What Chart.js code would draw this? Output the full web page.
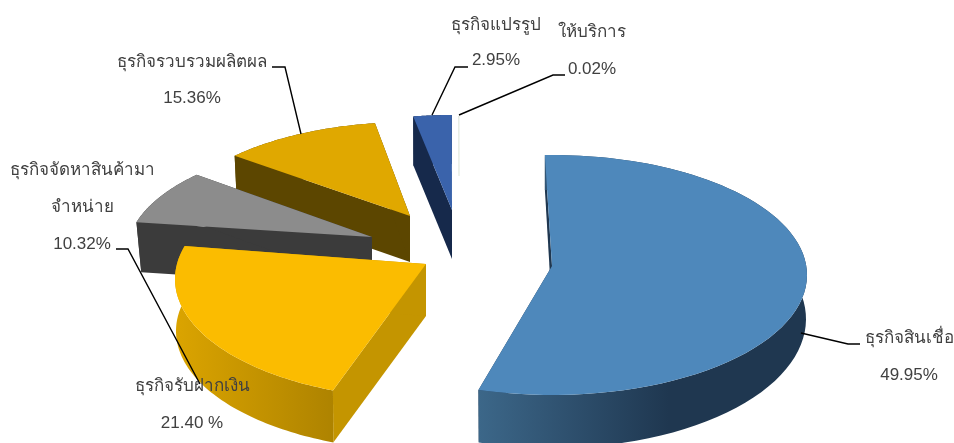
<!DOCTYPE html>
<html lang="th">
<head>
<meta charset="utf-8">
<style>html,body{margin:0;padding:0;background:#fff}canvas{display:block}</style>
<script src="https://cdn.jsdelivr.net/npm/chart.js@4"></script>
</head>
<body>
<canvas id="c" width="954" height="443"></canvas>
<script>
// DATA
const categories = ['ธุรกิจสินเชื่อ','ธุรกิจรับฝากเงิน','ธุรกิจจัดหาสินค้ามา จำหน่าย','ธุรกิจรวบรวมผลิตผล','ธุรกิจแปรรูป','ให้บริการ'];
const shares = [49.95, 21.40, 10.32, 15.36, 2.95, 0.02];
const shareTexts = ['49.95%','21.40 %','10.32%','15.36%','2.95%','0.02%'];

// STYLE / LAYOUT (relative to the pie centre and radius Chart.js computes)
const topColors = ['#4e88bb','#fbbc00','#8c8c8c','#e0a800','#3a63ab','#e6ece2'];
const edgeColors = ['#1f3750','#c49500','#3b3b3b','#5c4600','#16294b','#e6ece2'];
const rimStops = [['#3c6789','#1f3750'],['#dba400','#ae8300'],['#3b3b3b','#3b3b3b'],['#5c4600','#5c4600'],['#16294b','#16294b'],['#e6ece2','#e6ece2']];
// dx,dy explode; sx,sy top ellipse; lift apex; depth; bx,by bottom ellipse; t0,t1 view turn in degrees
const views = [
 {dx:75, dy:53.5,sx:1.275,sy:.60,lift:9, depth:44,bx:1.27,by:.645,t0:-1.6,t1:-2},
 {dx:-51,dy:57.5,sx:1.255,sy:.60,lift:15,depth:52,bx:1.25, by:.60,t0:3,t1:0},
 {dx:-105,dy:31.5,sx:1.225,sy:.56,lift:16,depth:50,bx:1.20,by:.56,t0:0,t1:-1.7},
 {dx:-67,dy:12.5,sx:1.225,sy:.56,lift:18,depth:46,bx:1.21,by:.56,t0:-1.7,t1:-1},
 {dx:-25,dy:5.5,sx:1.225,sy:.56,lift:17,depth:49,bx:1.22,by:.56,t0:-1.9,t1:0},
 {dx:-18,dy:-45.5,sx:1.225,sy:.30,lift:0,depth:0,bx:1.22,by:.30,t0:0,t1:0}
];
const paintOrder = [4,5,3,2,1,0];
const labelSpots = [
 {x:909,y:338,step:37.5},{x:192,y:386,step:37.5},{x:82,y:170,step:37.3},
 {x:192,y:62,step:36.5},{x:496,y:25,step:35.5},{x:592,y:32,step:37.5}
];
const leaders = [
 [[801,333],[848,344],[860,344]],
 [[116,249],[128,249],[200,384]],
 [[301,134],[285,67],[272,67]],
 [[432,115],[455,67],[468,67]],
 [[459,115],[553,75],[565,75]]
];

const warp = d => d + 9.5*(1-Math.cos(d*Math.PI/180)) - 17.9*Math.sin(d*Math.PI/180);

const pie3d = {
  id:'pie3d',
  beforeDatasetDraw(){ return false; },
  afterDatasetsDraw(chart){
    const ctx = chart.ctx, arcs = chart.getDatasetMeta(0).data;
    const toDeg = a => (a + Math.PI/2)*180/Math.PI;
    paintOrder.forEach(i => {
      const arc = arcs[i], v = views[i];
      const {x,y,startAngle,endAngle,outerRadius:R} = arc.getProps(['x','y','startAngle','endAngle','outerRadius'],true);
      const cx = x+v.dx, cy = y+v.dy;
      const a0 = toDeg(startAngle), a1 = toDeg(endAngle);
      const view = d => (warp(d) + v.t0 + (v.t1-v.t0)*(d-a0)/((a1-a0)||1))*Math.PI/180;
      const topPt = d => {const t=view(d);return [cx+R*v.sx*Math.sin(t), cy-R*v.sy*Math.cos(t)];};
      const botPt = d => {const t=view(d);return [cx+R*v.bx*Math.sin(t), cy+v.depth-R*v.by*Math.cos(t)];};
      const N = 80, samples=[];
      for(let k=0;k<=N;k++) samples.push(a0+(a1-a0)*k/N);
      const apex=[cx,cy-v.lift], apexB=[cx,cy-v.lift+v.depth];
      const poly=(pts,fill)=>{ctx.beginPath();pts.forEach((p,j)=>j?ctx.lineTo(p[0],p[1]):ctx.moveTo(p[0],p[1]));ctx.closePath();ctx.fillStyle=fill;ctx.fill();};
      if(v.depth>0){
        poly([apex,topPt(a0),botPt(a0),apexB],edgeColors[i]);
        poly([apex,topPt(a1),botPt(a1),apexB],edgeColors[i]);
        const tops=samples.map(topPt), bots=samples.map(botPt);
        const xs=tops.concat(bots).map(p=>p[0]);
        let minX=Math.min(...xs), maxX=Math.max(...xs);
        const g=ctx.createLinearGradient(minX,0,i===0?minX+190:maxX,0);
        g.addColorStop(0,rimStops[i][0]);g.addColorStop(1,rimStops[i][1]);
        poly(tops.concat(bots.reverse()),g);
      }
      const face=[apex].concat(samples.map(topPt));
      poly(face,topColors[i]);
      if(i===5){
        ctx.beginPath();ctx.moveTo(apex[0],apex[1]);const p=topPt(a0);ctx.lineTo(p[0],p[1]);
        ctx.strokeStyle=topColors[i];ctx.lineWidth=1.4;ctx.stroke();
      }
    });
    // leader lines
    ctx.strokeStyle='#000';ctx.lineWidth=1.4;
    leaders.forEach(l=>{ctx.beginPath();l.forEach((p,j)=>j?ctx.lineTo(p[0],p[1]):ctx.moveTo(p[0],p[1]));ctx.stroke();});
    // labels
    ctx.textAlign='center';ctx.textBaseline='middle';ctx.fillStyle='#404040';
    ctx.font='17px "Liberation Sans","Noto Sans",sans-serif';
    categories.forEach((c,i)=>{
      const lines=c.split(' ').concat(shareTexts[i]),s=labelSpots[i];
      lines.forEach((t,j)=>ctx.fillText(t,s.x,s.y+j*s.step));
    });
  }
};

new Chart(document.getElementById('c'),{
  type:'pie',
  data:{labels:categories,datasets:[{data:shares,backgroundColor:topColors,borderWidth:0}]},
  options:{responsive:false,animation:false,radius:200,layout:{padding:0},
    plugins:{legend:{display:false},tooltip:{enabled:false}}},
  plugins:[pie3d]
});
</script>
</body>
</html>
